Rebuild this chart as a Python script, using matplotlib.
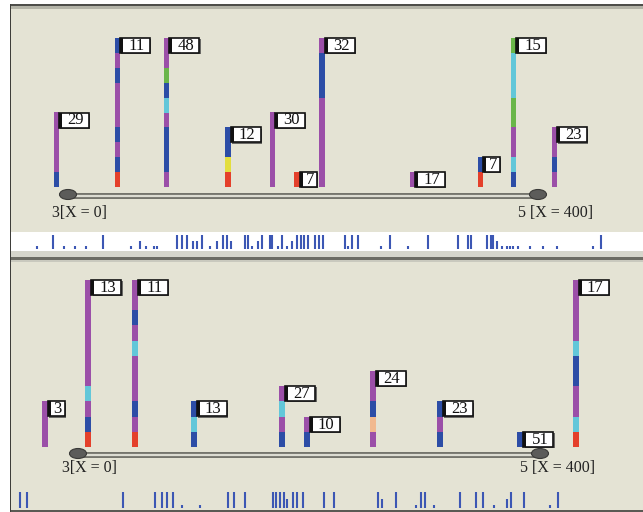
import matplotlib
matplotlib.use("Agg")
import matplotlib.pyplot as plt
from matplotlib.patches import Rectangle, Ellipse

plt.rcParams["font.family"] = ["Liberation Serif", "DejaVu Serif"]

# colour code per stacked unit
COL = {
    "p": "#9B4FA8",   # purple
    "b": "#2C4DA6",   # blue
    "c": "#62C7D9",   # cyan
    "g": "#6AB649",   # green
    "r": "#E4402B",   # red
    "y": "#E3DE3E",   # yellow
    "o": "#F1B98F",   # peach
}
BEIGE = "#E4E3D4"
TICK_BLUE = "#3C57B4"

# ---- upper track (positions on the X = 0..400 scale, stacks bottom->top) ----
top_pos = [-10, 42, 84, 136, 174, 195, 216, 293, 351, 379, 414]
top_stack = ["bpppp", "rbpbpppbpb", "pbbbpcbgpp", "rybb", "ppppp", "r",
             "ppppppbbbp", "p", "rb", "bcppggcccg", "pbpp"]
top_flag = ["29", "11", "48", "12", "30", "7", "32", "17", "7", "15", "23"]
top_ends = ["3[X = 0]", "5 [X = 400]"]
top_ticks = [-26, -13, -3, 6, 15, 30, 54, 61, 66, 73, 76, 93, 97, 101, 106, 110,
             114, 121, 127, 132, 135, 139, 151, 153, 157, 162, 165, 172, 174, 179,
             182, 186, 191, 195, 198, 201, 204, 210, 214, 217, 236, 238, 242, 247,
             266, 274, 289, 306, 332, 340, 343, 357, 360, 362, 365, 369, 374, 376,
             379, 383, 393, 404, 416, 447, 454]
top_tick_h = [0.2, 1, 0.2, 0.2, 0.2, 1, 0.2, 0.55, 0.2, 0.2, 0.2, 1, 1, 1, 0.55, 0.55,
              1, 0.2, 0.55, 1, 1, 0.55, 1, 1, 0.2, 0.55, 1, 1, 1, 0.2,
              1, 0.2, 0.55, 1, 1, 1, 1, 1, 1, 1, 1, 0.2, 1, 1,
              0.2, 1, 0.2, 1, 1, 1, 1, 1, 1, 1, 0.55, 0.2, 0.2, 0.2,
              0.2, 0.2, 0.2, 0.2, 0.2, 0.2, 1]

# ---- lower track ----
bot_pos = [-29, 9, 49, 100, 177, 198, 255, 313, 383, 431]
bot_stack = ["ppp", "rbpcppppppp", "rpbpppcpbpp", "bcb", "bpcp", "bp", "pobpp",
             "bpb", "b", "rcppbbcpppp"]
bot_flag = ["3", "13", "11", "13", "27", "10", "24", "23", "51", "17"]
bot_ends = ["3[X = 0]", "5 [X = 400]"]
bot_ticks = [-50, -44, 39, 67, 73, 77, 82, 90, 106, 130, 135, 145, 169, 171, 175,
             178, 181, 186, 190, 195, 213, 222, 260, 263, 275, 293, 297, 300, 308,
             331, 345, 351, 360, 371, 375, 386, 409, 416]
bot_tick_h = [1, 1, 1, 1, 1, 1, 1, 0.2, 0.2, 1, 1, 1, 1, 1, 1,
              1, 0.55, 1, 1, 1, 1, 1, 1, 0.55, 1, 0.2, 1, 1, 0.2,
              1, 1, 1, 0.2, 0.55, 1, 1, 0.2, 1]

W, H = 643, 512
fig = plt.figure(figsize=(W / 100, H / 100), dpi=100)
fig.patch.set_facecolor("white")

# ---- window chrome, in pixel coordinates ----
bg = fig.add_axes([0, 0, 1, 1])
bg.set_xlim(0, W); bg.set_ylim(H, 0); bg.axis("off")

def band(x0, y0, x1, y1, c):
    bg.add_patch(Rectangle((x0, y0), x1 - x0, y1 - y0, color=c, lw=0))

band(11, 9, W, 232, BEIGE)
band(11, 232, W, 251, "white")
band(11, 251, W, 257, "#D6D6CC")
band(11, 257, W, 259.5, "#6C6C64")
band(11, 259.5, W, 262, "#C9C9BE")
band(11, 262, W, 510, BEIGE)
band(10, 4, W, 6, "#4E4E4A")
band(10, 6, W, 9, "#B4B4A8")
band(9.5, 4, 11, H, "#3E3E3A")
band(11, 510, W, H, "#5A5A54")


def track(pos, stacks, flags, ends, ticks, tick_h,
          px0, px400, base_px, unit_px, line_px, label_px, tick_base_px, tick_len_px,
          bar_px):
    ax = fig.add_axes([0, 0, 1, 1])
    ax.patch.set_alpha(0)
    ax.axis("off")
    sx = (px400 - px0) / 400.0
    ax.set_xlim(-px0 / sx, (W - px0) / sx)
    ax.set_ylim((base_px - H) / unit_px, base_px / unit_px)
    px = 1.0 / sx          # one pixel in x data units
    py = 1.0 / unit_px     # one pixel in y data units

    # backbone line with end nodes
    yl = (base_px - line_px) * py
    ax.plot([0, 400], [yl, yl], color="#74746C", lw=4.3, solid_capstyle="butt", zorder=2)
    ax.plot([0, 400], [yl, yl], color="#DCDCD2", lw=1.6, solid_capstyle="butt", zorder=2)
    for xe in (0, 400):
        ax.add_patch(Ellipse((xe, yl + 1 * py), 17 * px, 10 * py, fc="#5C5C5A",
                             ec="#3A3A38", lw=0.8, zorder=5))
    yt = (base_px - label_px) * py
    ax.text(-14, yt, ends[0], fontsize=11.5, ha="left", va="center", color="#222")
    ax.text(383 - (px0 - 68) * 0.02, yt, ends[1], fontsize=11.5, ha="left",
            va="center", color="#222")

    # stacked bars and flags
    for x, st, lab in zip(pos, stacks, flags):
        n = len(st)
        ax.bar([x] * n, 1, bottom=list(range(n)), width=bar_px * px,
               color=[COL[c] for c in st], linewidth=0, zorder=3)
        bw = (17 if len(lab) == 1 else 30) * px
        bh = 15 * py
        left = x + bar_px * px / 2
        # soft shadow on the right/bottom
        ax.add_patch(Rectangle((left + 1.2 * px, n - bh - 1.2 * py), bw, bh,
                               fc="#6A6A66", lw=0, zorder=5))
        ax.add_patch(Rectangle((left, n - bh), bw, bh, fc="white", ec="#111",
                               lw=1.2, zorder=6))
        ax.add_patch(Rectangle((left, n - bh), 3 * px, bh, fc="#111", lw=0, zorder=7))
        ax.text(left + 3 * px + (bw - 3 * px) / 2, n - bh / 2 - 0.5 * py, lab,
                fontsize=12, ha="center", va="center", color="#111", zorder=8)

    # feature tick strip
    tb = (base_px - tick_base_px) * py
    ax.vlines(ticks, tb, [tb + h * tick_len_px * py for h in tick_h],
              colors=TICK_BLUE, lw=1.5)
    return ax


track(top_pos, top_stack, top_flag, top_ends, top_ticks, top_tick_h,
      px0=68, px400=538, base_px=187, unit_px=14.9, line_px=195.5, label_px=213,
      tick_base_px=249, tick_len_px=14, bar_px=5.5)
track(bot_pos, bot_stack, bot_flag, bot_ends, bot_ticks, bot_tick_h,
      px0=78, px400=540, base_px=447, unit_px=15.2, line_px=454.5, label_px=468,
      tick_base_px=508, tick_len_px=16, bar_px=6)

fig.savefig("out.png", dpi=100, facecolor="white")
